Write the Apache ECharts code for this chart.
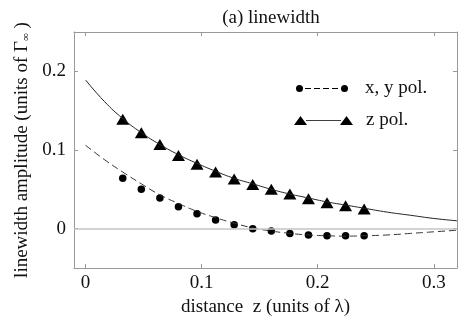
<!DOCTYPE html>
<html>
<head>
<meta charset="utf-8">
<script src="https://cdn.jsdelivr.net/npm/echarts@6/dist/echarts.min.js"></script>
<style>
  html, body { margin: 0; padding: 0; background: #fff; }
  #chart { width: 471px; height: 326px; }
</style>
</head>
<body>
<div id="chart"></div>
<script>
// measured points (x in units of lambda)
const zPolPts = [
  [0.032, 0.139], [0.048, 0.122], [0.064, 0.107], [0.080, 0.093], [0.096, 0.082],
  [0.112, 0.072], [0.128, 0.063], [0.144, 0.056], [0.160, 0.050], [0.176, 0.044],
  [0.192, 0.038], [0.208, 0.033], [0.224, 0.029], [0.240, 0.025]
];
const xyPolPts = [
  [0.032, 0.064], [0.048, 0.050], [0.064, 0.039], [0.080, 0.028], [0.096, 0.019],
  [0.112, 0.011], [0.128, 0.005], [0.144, 0.000], [0.160, -0.003], [0.176, -0.006],
  [0.192, -0.008], [0.208, -0.009], [0.224, -0.009], [0.240, -0.009]
];
// theory curves
const zPolCurve = [
  [0, 0.189], [0.016, 0.162], [0.032, 0.140], [0.048, 0.122], [0.064, 0.107],
  [0.080, 0.094], [0.096, 0.083], [0.112, 0.073], [0.128, 0.064], [0.144, 0.057],
  [0.160, 0.050], [0.176, 0.044], [0.192, 0.039], [0.208, 0.034], [0.224, 0.030],
  [0.240, 0.026], [0.260, 0.021], [0.280, 0.017], [0.300, 0.013], [0.320, 0.010]
];
const xyPolCurve = [
  [0, 0.106], [0.016, 0.088], [0.032, 0.072], [0.048, 0.057], [0.064, 0.043],
  [0.080, 0.032], [0.096, 0.022], [0.112, 0.014], [0.128, 0.007], [0.144, 0.001],
  [0.160, -0.003], [0.176, -0.006], [0.192, -0.008], [0.208, -0.009], [0.224, -0.0095],
  [0.240, -0.009], [0.260, -0.008], [0.280, -0.006], [0.300, -0.004], [0.320, -0.002]
];
const xTicks = [0, 0.1, 0.2, 0.3];
const yTicks = [0, 0.1, 0.2];

const font = '"Liberation Serif", "DejaVu Serif", serif';
const fs = 19;
const boxColor = '#999';
const ink = '#111';

// legend icons: marker - line - marker
const circleIcon = 'path://M0,4a3.5,3.5 0 1,0 7,0a3.5,3.5 0 1,0 -7,0Z' +
  'M9,3.5h6v1h-6Z M18,3.5h6v1h-6Z M27,3.5h6v1h-6Z M36,3.5h6v1h-6Z' +
  'M45,4a3.5,3.5 0 1,0 7,0a3.5,3.5 0 1,0 -7,0Z';
const triIcon = 'path://M0,9L6.5,0L13,9Z M12,4.2h35v0.9h-35Z M46,9L52.5,0L59,9Z';

let myChart = echarts.init(document.getElementById('chart'));

function xAxisCfg(pos) {
  return {
    type: 'value', position: pos, min: -0.01, max: 0.32,
    axisLine: { show: true, onZero: false, lineStyle: { color: boxColor, width: 1 } },
    axisTick: { show: true, inside: true, length: 4, customValues: xTicks, lineStyle: { color: boxColor } },
    axisLabel: {
      show: pos === 'bottom', customValues: xTicks, margin: 6,
      color: ink, fontFamily: font, fontSize: fs
    },
    splitLine: { show: false },
    name: pos === 'bottom' ? 'distance  z (units of \u03bb)' : '',
    nameLocation: 'middle', nameGap: 26,
    nameTextStyle: { color: ink, fontFamily: font, fontSize: fs }
  };
}
function yAxisCfg(pos) {
  return {
    type: 'value', position: pos, min: -0.05, max: 0.25,
    axisLine: { show: true, onZero: false, lineStyle: { color: boxColor, width: 1 } },
    axisTick: { show: true, inside: true, length: 4, customValues: yTicks, lineStyle: { color: boxColor } },
    axisLabel: {
      show: pos === 'left', customValues: yTicks, margin: 8,
      color: ink, fontFamily: font, fontSize: fs
    },
    splitLine: { show: false },
    name: pos === 'left' ? 'linewidth amplitude (units of \u0393{sub|\u221e} )' : '',
    nameLocation: 'middle', nameGap: 40,
    nameTextStyle: {
      color: ink, fontFamily: font, fontSize: fs,
      rich: { sub: { fontFamily: font, fontSize: 11, color: ink, padding: [8, 0, 0, 0] } }
    }
  };
}

myChart.setOption({
  animation: false,
  title: {
    text: '(a) linewidth', left: 266, top: 4, textAlign: 'center',
    textStyle: { color: ink, fontFamily: font, fontSize: fs, fontWeight: 'normal' }
  },
  grid: { left: 74, right: 14, top: 32, bottom: 58 },
  legend: [
    {
      data: [{ name: 'x, y pol.', icon: circleIcon }],
      left: 291, top: 74, itemWidth: 52, itemHeight: 7,
      textStyle: { color: ink, fontFamily: font, fontSize: fs, padding: [0, 0, 0, 12] }
    },
    {
      data: [{ name: 'z pol.', icon: triIcon }],
      left: 289, top: 106, itemWidth: 59, itemHeight: 9,
      textStyle: { color: ink, fontFamily: font, fontSize: fs, padding: [0, 0, 0, 8] }
    }
  ],
  xAxis: [xAxisCfg('bottom'), xAxisCfg('top')],
  yAxis: [yAxisCfg('left'), yAxisCfg('right')],
  series: [
    {
      name: 'xy curve', type: 'line', data: xyPolCurve, smooth: true, showSymbol: false,
      lineStyle: { color: '#333', width: 1, type: [7, 4] }, silent: true,
      markLine: {
        silent: true, symbol: 'none', label: { show: false },
        lineStyle: { color: '#c4c4c4', width: 1.5, type: 'solid' },
        data: [{ yAxis: 0 }]
      }
    },
    {
      name: 'z curve', type: 'line', data: zPolCurve, smooth: true, showSymbol: false,
      lineStyle: { color: '#222', width: 1 }, silent: true
    },
    {
      name: 'x, y pol.', type: 'scatter', data: xyPolPts, symbol: 'circle', symbolSize: 7.5,
      itemStyle: { color: '#000', opacity: 1 }
    },
    {
      name: 'z pol.', type: 'scatter', data: zPolPts, symbol: 'triangle', symbolSize: [13, 11],
      itemStyle: { color: '#000', opacity: 1 }
    }
  ]
});
</script>
</body>
</html>
